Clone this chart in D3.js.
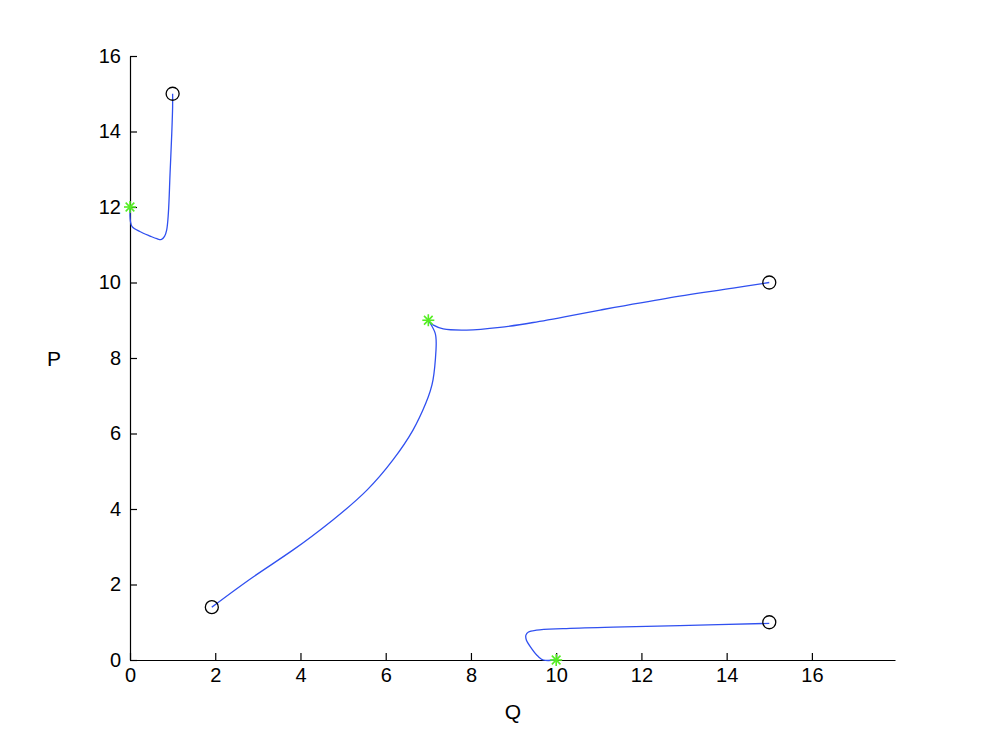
<!DOCTYPE html>
<html lang="en">
<head>
<meta charset="utf-8">
<title>Q-P trajectories</title>
<script src="https://cdn.jsdelivr.net/npm/d3@7"></script>
<style>
  body { margin: 0; background: #fff; }
  svg { display: block; font-family: "Liberation Sans", Arial, sans-serif; }
  .axis path, .axis line { stroke: #000; stroke-width: 1.2; }
  .axis text { font-size: 20px; fill: #000; }
</style>
</head>
<body>
<script>
  var w = 990;
  var h = 745;

  // axis ticks
  var xTicks = [0, 2, 4, 6, 8, 10, 12, 14, 16];
  var yTicks = [0, 2, 4, 6, 8, 10, 12, 14, 16];

  // trajectory 1: from (1,15) to star at (0,12)
  var traj1Q = [1.0, 1.0, 0.98, 0.94, 0.90, 0.86, 0.81, 0.74, 0.63, 0.47, 0.23, 0.05, 0.01, 0.0];
  var traj1P = [15.0, 14.66, 13.95, 12.89, 11.83, 11.39, 11.22, 11.14, 11.16, 11.23, 11.35, 11.48, 11.62, 12.0];

  // trajectory 2: from (15,10) to star at (7,9)
  var traj2Q = [15.0, 14.15, 12.59, 11.03, 9.46, 8.68, 7.9, 7.35, 7.12, 7.04, 7.0];
  var traj2P = [10.0, 9.85, 9.58, 9.27, 8.94, 8.81, 8.74, 8.77, 8.87, 8.94, 9.0];

  // trajectory 3: from (1.9,1.4) to star at (7,9)
  var traj3Q = [1.92, 2.89, 3.82, 4.76, 5.56, 6.17, 6.64, 6.94, 7.11, 7.18, 7.16, 7.0];
  var traj3P = [1.40, 2.20, 2.91, 3.71, 4.50, 5.30, 6.09, 6.80, 7.42, 8.21, 8.66, 9.0];

  // trajectory 4: from (15,1) to star at (10,0)
  var traj4Q = [15.0, 12.9, 11.34, 10.16, 9.54, 9.35, 9.29, 9.30, 9.42, 9.58, 9.70, 10.0];
  var traj4P = [0.97, 0.91, 0.87, 0.83, 0.79, 0.74, 0.66, 0.53, 0.31, 0.09, 0.0, 0.0];

  // start points (circles) and end points (stars)
  var startQ = [1, 15, 1.92, 15];
  var startP = [15, 10, 1.40, 1];
  var endQ = [0, 7, 10];
  var endP = [12, 9, 0];

  var x = d3.scaleLinear().domain([0, 17.95]).range([130, 895]);
  var y = d3.scaleLinear().domain([0, 16]).range([660, 56]);

  var svg = d3.select("body")
              .append("svg")
              .attr("width", w)
              .attr("height", h);

  var xAxis = svg.append("g")
                 .attr("class", "axis")
                 .attr("transform", "translate(0,660)")
                 .call(d3.axisBottom(x).tickValues(xTicks).tickFormat(d3.format("d"))
                        .tickSizeInner(-7).tickSizeOuter(0).tickPadding(8));

  var yAxis = svg.append("g")
                 .attr("class", "axis")
                 .attr("transform", "translate(130,0)")
                 .call(d3.axisLeft(y).tickValues(yTicks).tickFormat(d3.format("d"))
                        .tickSizeInner(-7).tickSizeOuter(0).tickPadding(9));

  svg.append("text")
     .attr("x", 513)
     .attr("y", 719)
     .attr("text-anchor", "middle")
     .attr("font-size", 21)
     .text("Q");

  svg.append("text")
     .attr("x", 54)
     .attr("y", 366)
     .attr("text-anchor", "middle")
     .attr("font-size", 21)
     .text("P");

  var line = d3.line()
               .x(function(d) { return x(d[0]); })
               .y(function(d) { return y(d[1]); })
               .curve(d3.curveCatmullRom.alpha(0.5));

  // the long smooth arc looks better as a natural spline
  var smooth = d3.line()
                 .x(function(d) { return x(d[0]); })
                 .y(function(d) { return y(d[1]); })
                 .curve(d3.curveNatural);

  var trajectories = [[traj1Q, traj1P, line], [traj2Q, traj2P, line], [traj3Q, traj3P, smooth], [traj4Q, traj4P, line]];

  svg.selectAll("path.traj")
     .data(trajectories)
     .enter()
     .append("path")
     .attr("class", "traj")
     .attr("d", function(t) { return t[2](d3.zip(t[0], t[1])); })
     .attr("fill", "none")
     .attr("stroke", "#3050f0")
     .attr("stroke-width", 1.3);

  svg.selectAll("circle.start")
     .data(d3.zip(startQ, startP))
     .enter()
     .append("circle")
     .attr("class", "start")
     .attr("cx", function(d) { return x(d[0]); })
     .attr("cy", function(d) { return y(d[1]); })
     .attr("r", 6.5)
     .attr("fill", "none")
     .attr("stroke", "#000")
     .attr("stroke-width", 1.3);

  // asterisk markers
  var s = 6;
  var stars = svg.selectAll("g.star")
                 .data(d3.zip(endQ, endP))
                 .enter()
                 .append("g")
                 .attr("class", "star")
                 .attr("transform", function(d) { return "translate(" + x(d[0]) + "," + y(d[1]) + ")"; })
                 .attr("stroke", "#55ee22")
                 .attr("stroke-width", 1.6);

  stars.append("line").attr("x1", -s).attr("x2", s).attr("y1", 0).attr("y2", 0);
  stars.append("line").attr("x1", 0).attr("x2", 0).attr("y1", -s).attr("y2", s);
  stars.append("line").attr("x1", -s * 0.72).attr("x2", s * 0.72).attr("y1", -s * 0.72).attr("y2", s * 0.72);
  stars.append("line").attr("x1", -s * 0.72).attr("x2", s * 0.72).attr("y1", s * 0.72).attr("y2", -s * 0.72);
</script>
</body>
</html>
